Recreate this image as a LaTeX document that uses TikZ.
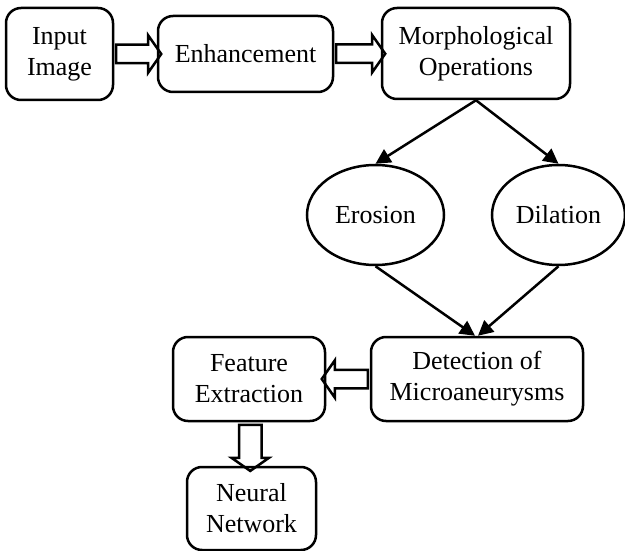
\documentclass[tikz,border=0pt]{standalone}
\usepackage{fontspec}
\setmainfont{Liberation Serif}
\usetikzlibrary{arrows.meta,shapes.geometric,shapes.arrows,calc}

\begin{document}
\begin{tikzpicture}[x=1pt,y=-1pt,line width=2.5pt,
    font=\fontsize{26}{31}\selectfont,
    box/.style={draw,rounded corners=15pt,align=center,inner sep=0pt},
    oval/.style={draw,ellipse,inner sep=0pt},
    fat/.style={draw,single arrow,single arrow head extend=9.5pt,
      single arrow tip angle=110,minimum width=0pt,inner sep=8pt},
    link/.style={-{Triangle[length=15pt,width=15pt]}}]
      \useasboundingbox (0,0) rectangle (625,551);
      % top row
      \node[box,minimum width=107pt,minimum height=92pt] (input) at (59.5,54) {Input\\Image};
      \node[box,minimum width=175pt,minimum height=76pt] (enh) at (245.5,54) {Enhancement};
      \node[box,minimum width=188pt,minimum height=91pt] (morph) at (476,53.5) {Morphological\\Operations};
      % operations
      \node[oval,minimum width=137pt,minimum height=100pt] (erosion) at (375.5,215) {Erosion};
      \node[oval,minimum width=133pt,minimum height=100pt] (dilation) at (558.5,215) {Dilation};
      % bottom part
      \node[box,minimum width=212pt,minimum height=84pt] (detect) at (477,379) {Detection of\\Microaneurysms};
      \node[box,minimum width=152pt,minimum height=84pt] (feature) at (249,379) {Feature\\Extraction};
      \node[box,minimum width=129pt,minimum height=83pt] (neural) at (251.5,508.5) {Neural\\Network};
      % hollow arrows
      \node[fat,minimum height=45pt] (f1) at ($(input.east)!.5!(enh.west)$) {};
      \node[fat,minimum height=49pt] (f2) at ($(enh.east)!.5!(morph.west)$) {};
      \node[fat,minimum height=46pt,shape border rotate=180] (f3) at ($(detect.west)!.5!(feature.east)$) {};
      \node[fat,minimum height=46pt,shape border rotate=270,inner sep=10pt,
        single arrow head extend=7.5pt] (f4) at ($(feature.south)!.5!(neural.north)$) {};
      % plain arrows
      \draw[link] (morph.south) -- (erosion.north);
      \draw[link] (morph.south) -- (dilation.north);
      \draw[link] (erosion.south) -- ([xshift=-2pt]detect.north);
      \draw[link] (dilation.south) -- ([xshift=1pt]detect.north);
\end{tikzpicture}
\end{document}
